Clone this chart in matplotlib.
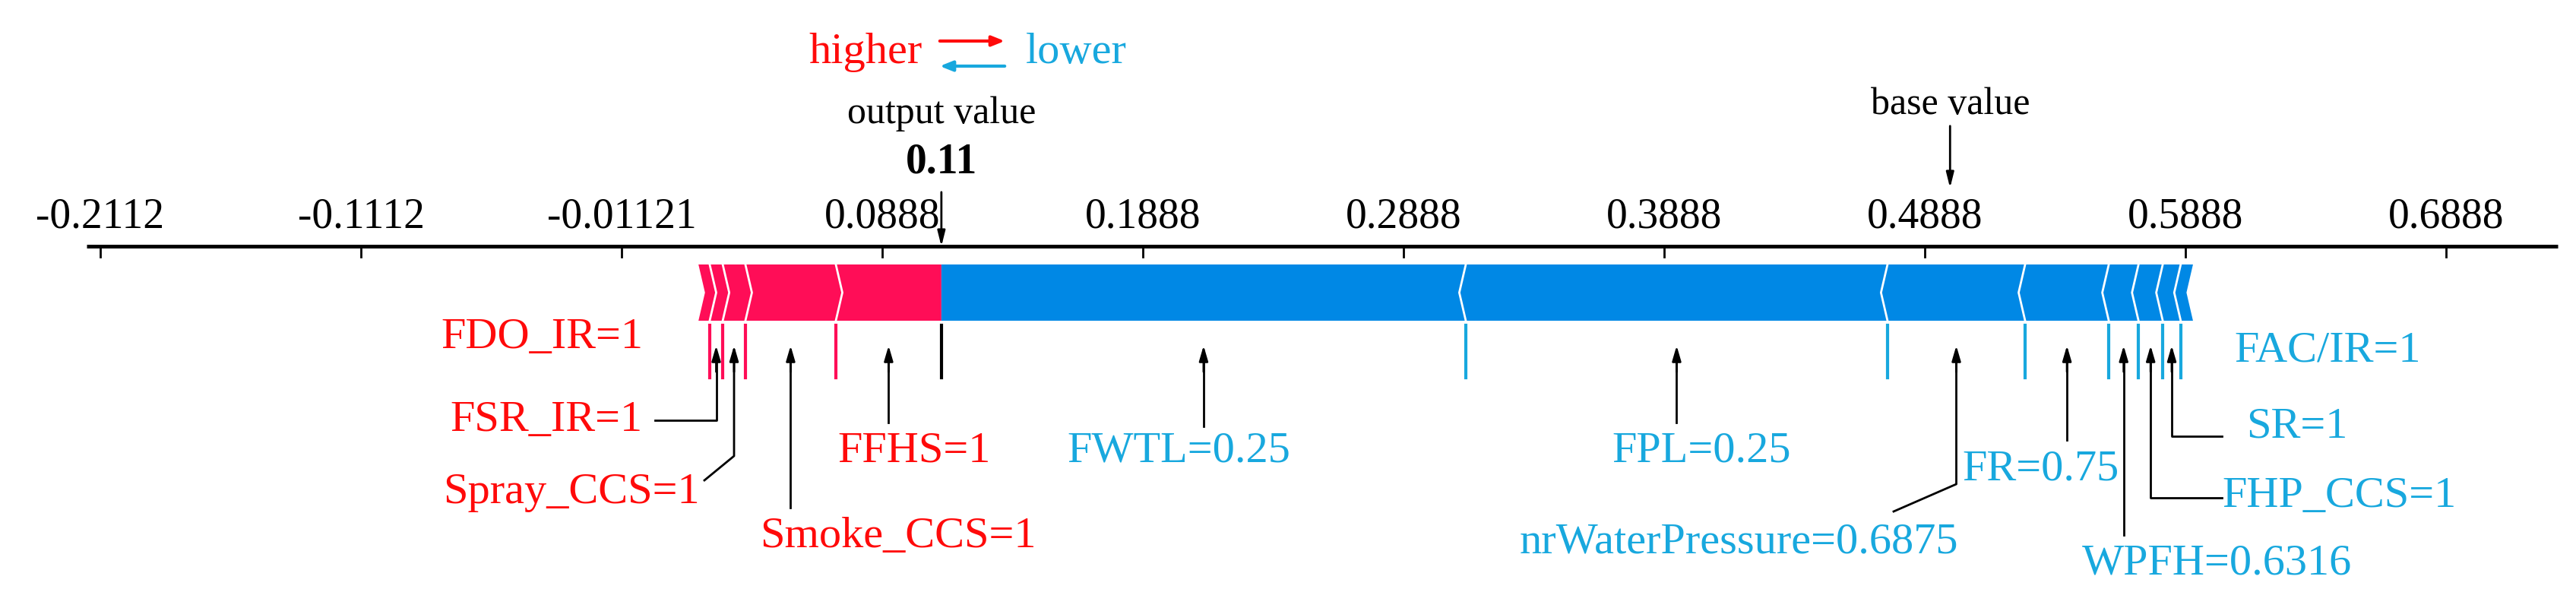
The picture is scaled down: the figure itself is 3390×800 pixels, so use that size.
"""SHAP-style force plot for a single prediction."""
import matplotlib
matplotlib.use("Agg")
import matplotlib.pyplot as plt
from matplotlib.patches import Polygon

plt.rcParams["font.family"] = ["Liberation Serif", "DejaVu Serif"]

BASE_VALUE = 0.4985
OUTPUT_VALUE = 0.1115
TICKS = [-0.2112, -0.1112, -0.01121, 0.0888, 0.1888, 0.2888, 0.3888, 0.4888, 0.5888, 0.6888]
TICK_LABELS = ["-0.2112", "-0.1112", "-0.01121", "0.0888", "0.1888", "0.2888",
               "0.3888", "0.4888", "0.5888", "0.6888"]

# features pushing higher (red), ordered outward from the output value
RED_NAMES = ["FFHS=1", "Smoke_CCS=1", "Spray_CCS=1", "FSR_IR=1", "FDO_IR=1"]
RED_SHAP = [0.0405, 0.0347, 0.0087, 0.0050, 0.0043]
# features pushing lower (blue), ordered outward from the output value
BLUE_NAMES = ["FWTL=0.25", "FPL=0.25", "nrWaterPressure=0.6875", "FR=0.75",
              "WPFH=0.6316", "FHP_CCS=1", "SR=1", "FAC/IR=1"]
BLUE_SHAP = [0.2012, 0.1618, 0.0528, 0.0321, 0.0114, 0.0093, 0.0069, 0.0047]

RED = "#FF0D57"
BLUE = "#0088E5"
RED_TXT = "#FF0A0A"
BLUE_TXT = "#18A8DE"

# label layout in pixels: (x, y, ha) and leader path (list of pixel points after arrow x)
RED_LAYOUT = {
    "FFHS=1": (1203, 594, "center", [(None, 556)]),
    "Smoke_CCS=1": (1182, 706, "center", [(None, 668)]),
    "Spray_CCS=1": (921, 648, "right", [(None, 600), (927, 632)]),
    "FSR_IR=1": (846, 553, "right", [(None, 553), (862, 553)]),
    "FDO_IR=1": (846, 444, "right", None),
}
BLUE_LAYOUT = {
    "FWTL=0.25": (1404, 594, "left", [(None, 561)]),
    "FPL=0.25": (2239, 594, "center", [(None, 556)]),
    "nrWaterPressure=0.6875": (2288, 714, "center", [(None, 637), (2492, 673)]),
    "FR=0.75": (2686, 617, "center", [(None, 579)]),
    "WPFH=0.6316": (2918, 742, "center", [(None, 704)]),
    "FHP_CCS=1": (2924, 653, "left", [(None, 655), (2924, 655)]),
    "SR=1": (2956, 561, "left", [(None, 574), (2924, 574)]),
    "FAC/IR=1": (2940, 462, "left", None),
}

PX0, SCALE = 132, 3430  # pixel of -0.2112, pixels per unit


def px2v(px):
    return (px - PX0) / SCALE - 0.2112


def main() -> None:
    fig = plt.figure(figsize=(33.9, 8), dpi=100)
    ax = fig.add_axes([0, 0, 1, 1])
    ax.set_xlim(px2v(0), px2v(3390))
    ax.set_ylim(800, 0)
    ax.axis("off")

    top, bot, mid = 348, 422, 385
    d = 0.0025

    # axis line and ticks
    ax.plot([px2v(114), px2v(3366)], [324, 324], color="black", lw=3.5, solid_capstyle="butt")
    for t, lab in zip(TICKS, TICK_LABELS):
        ax.plot([t, t], [324, 338], color="black", lw=2)
        ax.text(t, 300, lab, ha="center", va="baseline", fontsize=40)

    # red segments
    edges = [OUTPUT_VALUE]
    for s in RED_SHAP:
        edges.append(edges[-1] - s)
    for i, s in enumerate(RED_SHAP):
        r, l = edges[i], edges[i + 1]
        rd = 0 if i == 0 else d
        ax.add_patch(Polygon([(l, top), (r, top), (r + rd, mid), (r, bot), (l, bot), (l + d, mid)],
                             closed=True, fc=RED, ec="none"))
        if i > 0:
            ax.plot([r, r + d, r], [top, mid, bot], color="white", lw=2)
        ax.plot([r, r], [428, 497], color="black" if i == 0 else RED, lw=3)

    # blue segments
    bedges = [OUTPUT_VALUE]
    for s in BLUE_SHAP:
        bedges.append(bedges[-1] + s)
    for i, s in enumerate(BLUE_SHAP):
        l, r = bedges[i], bedges[i + 1]
        ld = 0 if i == 0 else d
        ax.add_patch(Polygon([(l, top), (r, top), (r - d, mid), (r, bot), (l, bot), (l - ld, mid)],
                             closed=True, fc=BLUE, ec="none"))
        if i > 0:
            ax.plot([l, l - d, l], [top, mid, bot], color="white", lw=2)
            ax.plot([l, l], [428, 497], color=BLUE_TXT, lw=3)

    # labels with arrows and leaders
    def draw(names, vals, edges_, layout, color):
        for i, name in enumerate(names):
            x_arrow = (edges_[i] + edges_[i + 1]) / 2
            lx, ly, ha, path = layout[name]
            ax.text(px2v(lx), ly, name, ha=ha, va="center", fontsize=42, color=color)
            if path is None:
                continue
            pts = [(x_arrow, 470)]
            for px, py in path:
                pts.append((x_arrow if px is None else px2v(px), py))
            xs, ys = zip(*pts)
            ax.plot(xs, ys, color="black", lw=2)
            ax.annotate("", xy=(x_arrow, 452), xytext=(x_arrow, 492),
                        arrowprops=dict(arrowstyle="-|>,head_width=0.35,head_length=1.2",
                                        color="black", lw=2))

    draw(RED_NAMES, RED_SHAP, [edges[i] for i in range(len(edges))][::1], RED_LAYOUT, RED_TXT) \
        if False else None
    # red edges descend, so pair them as (right, left)
    draw(RED_NAMES, RED_SHAP, edges, RED_LAYOUT, RED_TXT)
    draw(BLUE_NAMES, BLUE_SHAP, bedges, BLUE_LAYOUT, BLUE_TXT)

    # output value / base value markers
    ax.text(OUTPUT_VALUE, 150, "output value", ha="center", va="center", fontsize=36)
    ax.text(OUTPUT_VALUE, 214, f"{0.11:.2f}", ha="center", va="center", fontsize=40, fontweight="bold")
    ax.annotate("", xy=(OUTPUT_VALUE, 327), xytext=(OUTPUT_VALUE, 250),
                arrowprops=dict(arrowstyle="-|>,head_width=0.3,head_length=1.2", color="black", lw=2))
    ax.text(BASE_VALUE, 138, "base value", ha="center", va="center", fontsize=36)
    ax.annotate("", xy=(BASE_VALUE, 250), xytext=(BASE_VALUE, 163),
                arrowprops=dict(arrowstyle="-|>,head_width=0.3,head_length=1.2", color="black", lw=2))

    # higher / lower legend
    ax.text(px2v(1214), 69, "higher", ha="right", va="center", fontsize=42, color=RED_TXT)
    ax.text(px2v(1350), 69, "lower", ha="left", va="center", fontsize=42, color=BLUE_TXT)
    ax.annotate("", xy=(px2v(1325), 54), xytext=(px2v(1234), 54),
                arrowprops=dict(arrowstyle="-|>,head_width=0.4,head_length=1.0", color=RED_TXT, lw=3))
    ax.annotate("", xy=(px2v(1234), 87), xytext=(px2v(1325), 87),
                arrowprops=dict(arrowstyle="-|>,head_width=0.4,head_length=1.0", color=BLUE_TXT, lw=3))

    fig.savefig("out.png", dpi=100)
    plt.close(fig)


if __name__ == "__main__":
    main()
